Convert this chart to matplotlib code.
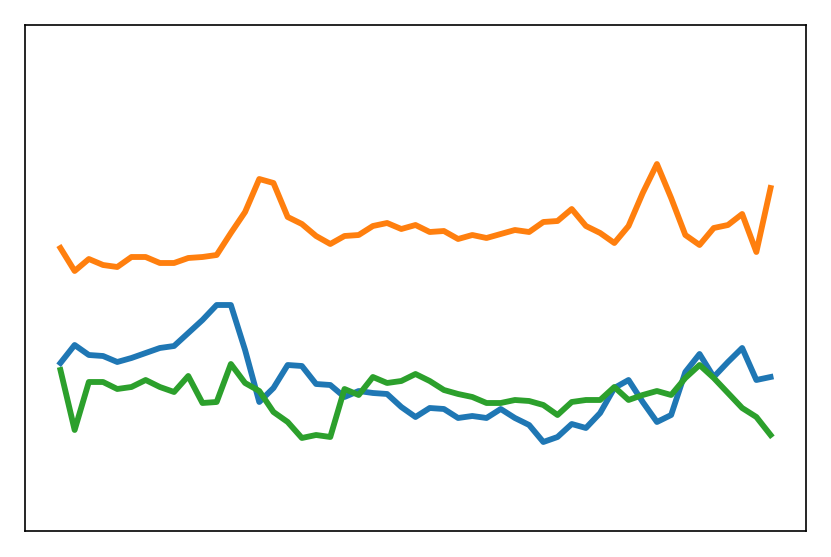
import matplotlib
matplotlib.use("Agg")
import matplotlib.pyplot as plt
import numpy as np

# three series, 51 samples each (arbitrary units)
steps = np.arange(51)

blue = [168, 186, 176, 175, 169, 173, 178, 183, 185, 198, 211, 226, 226, 181, 129, 143, 166,
        165, 147, 146, 134, 140, 138, 137, 124, 114, 123, 122, 113, 115, 113, 122, 113, 106,
        89, 94, 107, 103, 118, 143, 151, 129, 109, 116, 159, 177, 154, 169, 183, 151, 154]

orange = [283, 260, 272, 266, 264, 274, 274, 268, 268, 273, 274, 276, 298, 319, 352, 348, 314,
          307, 295, 287, 295, 296, 305, 308, 302, 306, 299, 300, 292, 296, 293, 297, 301, 299,
          309, 310, 322, 305, 298, 288, 305, 338, 367, 333, 296, 286, 303, 306, 317, 279, 343]

green = [161, 101, 149, 149, 142, 144, 151, 144, 139, 155, 128, 129, 167, 148, 140, 119, 109,
         93, 96, 94, 142, 136, 154, 148, 150, 157, 150, 141, 137, 134, 128, 128, 131, 130,
         126, 116, 129, 131, 131, 144, 131, 136, 140, 136, 153, 166, 153, 138, 123, 114, 96]

fig = plt.figure(figsize=(8.31, 5.57), dpi=100)
ax = fig.add_axes([0.030, 0.0467, 0.940, 0.9084])

ax.plot(steps, blue, color="C0", lw=4.2)
ax.plot(steps, orange, color="C1", lw=4.2)
ax.plot(steps, green, color="C2", lw=4.2)

ax.set_ylim(0, 506)
ax.set_xticks([])
ax.set_yticks([])
for s in ax.spines.values():
    s.set_linewidth(1.2)
    s.set_color("black")

fig.savefig("out.png", dpi=100)
